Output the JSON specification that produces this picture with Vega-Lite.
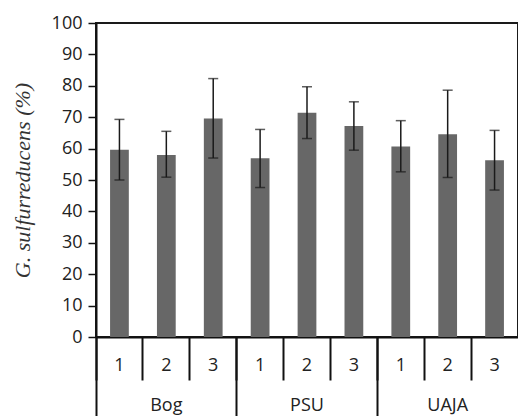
{
  "$schema": "https://vega.github.io/schema/vega-lite/v6.json",
  "width": 422,
  "height": 314,
  "autosize": {"type": "none"},
  "padding": {"left": 96, "top": 23, "right": 0, "bottom": 79},
  "config": {
    "view": {"stroke": "#1a1a1a", "strokeWidth": 2},
    "font": "Open Sans"
  },
  "data": {
    "values": [
      {"site": "Bog", "key": "Bog 1", "value": 59.6, "low": 50.0, "high": 69.3},
      {"site": "Bog", "key": "Bog 2", "value": 58.0, "low": 50.9, "high": 65.5},
      {"site": "Bog", "key": "Bog 3", "value": 69.6, "low": 57.0, "high": 82.3},
      {"site": "PSU", "key": "PSU 1", "value": 56.9, "low": 47.6, "high": 66.1},
      {"site": "PSU", "key": "PSU 2", "value": 71.4, "low": 63.2, "high": 79.7},
      {"site": "PSU", "key": "PSU 3", "value": 67.2, "low": 59.5, "high": 74.9},
      {"site": "UAJA", "key": "UAJA 1", "value": 60.7, "low": 52.6, "high": 68.9},
      {"site": "UAJA", "key": "UAJA 2", "value": 64.6, "low": 50.8, "high": 78.6},
      {"site": "UAJA", "key": "UAJA 3", "value": 56.3, "low": 46.8, "high": 65.8}
    ]
  },
  "layer": [
    {
      "mark": {"type": "bar", "color": "#676767", "width": {"band": 0.4}},
      "encoding": {
        "x": {
          "field": "key", "type": "nominal", "sort": null,
          "scale": {"paddingInner": 0, "paddingOuter": 0},
          "axis": {
            "orient": "bottom", "title": null,
            "labelExpr": "slice(datum.label, -1)",
            "bandPosition": 0, "tickSize": 43, "tickWidth": 2, "tickColor": "#111",
            "domainColor": "#111", "domainWidth": 2,
            "labelAngle": 0, "labelFontSize": 18, "labelColor": "#222",
            "labelBaseline": "middle", "labelPadding": -15
          }
        },
        "y": {
          "field": "value", "type": "quantitative",
          "title": "G. sulfurreducens (%)",
          "scale": {"domain": [0, 100], "nice": false},
          "axis": {
            "values": [0, 10, 20, 30, 40, 50, 60, 70, 80, 90, 100],
            "tickCount": 20,
            "labelOverlap": false,
            "grid": false,
            "titleFont": "Liberation Serif", "titleFontStyle": "italic", "titleFontWeight": "normal",
            "titleFontSize": 22, "titleColor": "#333", "titlePadding": 17,
            "domainColor": "#111", "domainWidth": 2,
            "tickColor": "#111", "tickWidth": 1.5, "tickSize": 8,
            "labelFontSize": 18, "labelColor": "#222", "labelPadding": 6
          }
        }
      }
    },
    {
      "mark": {"type": "rule", "color": "#1a1a1a", "strokeWidth": 1.5},
      "encoding": {
        "x": {"field": "key", "type": "nominal", "sort": null, "scale": {"paddingInner": 0, "paddingOuter": 0}, "axis": null},
        "y": {"field": "low", "type": "quantitative"},
        "y2": {"field": "high"}
      }
    },
    {
      "mark": {"type": "tick", "color": "#1a1a1a", "thickness": 1.5, "size": 10},
      "encoding": {
        "x": {"field": "key", "type": "nominal", "sort": null, "scale": {"paddingInner": 0, "paddingOuter": 0}, "axis": null},
        "y": {"field": "low", "type": "quantitative"}
      }
    },
    {
      "mark": {"type": "tick", "color": "#1a1a1a", "thickness": 1.5, "size": 10},
      "encoding": {
        "x": {"field": "key", "type": "nominal", "sort": null, "scale": {"paddingInner": 0, "paddingOuter": 0}, "axis": null},
        "y": {"field": "high", "type": "quantitative"}
      }
    },
    {
      "mark": {"type": "bar", "opacity": 0},
      "encoding": {
        "x": {
          "field": "site", "type": "nominal", "sort": null,
          "scale": {"paddingInner": 0, "paddingOuter": 0},
          "axis": {
            "orient": "bottom", "title": null, "domain": false,
            "bandPosition": 0, "tickSize": 79, "tickWidth": 2, "tickColor": "#111",
            "labelAngle": 0, "labelFontSize": 18, "labelColor": "#222",
            "labelBaseline": "alphabetic", "labelPadding": -6
          }
        },
        "y": {"datum": 0, "type": "quantitative"}
      }
    }
  ],
  "resolve": {"scale": {"x": "independent"}, "axis": {"x": "independent"}}
}
